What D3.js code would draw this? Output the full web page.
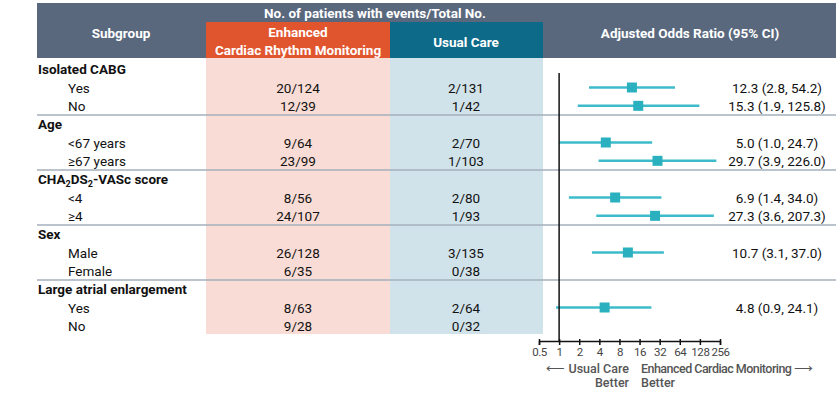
<!DOCTYPE html>
<html lang="en">
<head>
    <meta charset="UTF-8">
    <title>Forest plot</title>
    <script src="https://d3js.org/d3.v7.min.js"></script>
    <style>
        body { margin: 0; background: #fff; }
        text { font-family: Roboto, "Noto Sans", sans-serif; }
    </style>
</head>
<body>
<script>

    // rows of the table, top to bottom
    var labels = ["Isolated CABG", "Yes", "No",
                  "Age", "<67 years", "\u226567 years",
                  "CHA2DS2-VASc score", "<4", "\u22654",
                  "Sex", "Male", "Female",
                  "Large atrial enlargement", "Yes", "No"];
    var isGroup = [1, 0, 0, 1, 0, 0, 1, 0, 0, 1, 0, 0, 1, 0, 0];
    var enhanced = ["", "20/124", "12/39", "", "9/64", "23/99", "", "8/56", "24/107", "", "26/128", "6/35", "", "8/63", "9/28"];
    var usual = ["", "2/131", "1/42", "", "2/70", "1/103", "", "2/80", "1/93", "", "3/135", "0/38", "", "2/64", "0/32"];
    var oddsRatio = [null, 12.3, 15.3, null, 5.0, 29.7, null, 6.9, 27.3, null, 10.7, null, null, 4.8, null];
    var ciLow = [null, 2.8, 1.9, null, 1.0, 3.9, null, 1.4, 3.6, null, 3.1, null, null, 0.9, null];
    var ciHigh = [null, 54.2, 125.8, null, 24.7, 226.0, null, 34.0, 207.3, null, 37.0, null, null, 24.1, null];
    var orText = ["", "12.3 (2.8, 54.2)", "15.3 (1.9, 125.8)", "", "5.0 (1.0, 24.7)", "29.7 (3.9, 226.0)", "",
                  "6.9 (1.4, 34.0)", "27.3 (3.6, 207.3)", "", "10.7 (3.1, 37.0)", "", "", "4.8 (0.9, 24.1)", ""];
    var tickValues = [0.5, 1, 2, 4, 8, 16, 32, 64, 128, 256];

    var width = 836, height = 395;

    var svg = d3.select("body").append("svg")
        .attr("width", width)
        .attr("height", height);

    var y = d3.scaleBand()
        .domain(d3.range(labels.length))
        .range([60, 335])
        .paddingInner(0);

    var x = d3.scaleLog().base(2)
        .domain([0.5, 256])
        .range([539, 720]);

    var cyan = "#3dbbcb";

    // light column backgrounds
    svg.append("rect").attr("x", 206).attr("y", 58).attr("width", 184).attr("height", 276).attr("fill", "#f9dcd5");
    svg.append("rect").attr("x", 390).attr("y", 58).attr("width", 153).attr("height", 276).attr("fill", "#d1e3ea");

    // header
    svg.append("rect").attr("x", 37).attr("y", 3).attr("width", 799).attr("height", 55).attr("fill", "#5a687e");
    svg.append("rect").attr("x", 206).attr("y", 22).attr("width", 184).attr("height", 36).attr("fill", "#e1552e");
    svg.append("rect").attr("x", 390).attr("y", 22).attr("width", 153).attr("height", 36).attr("fill", "#0d6b89");

    var hdr = svg.append("g")
        .attr("fill", "#fff")
        .attr("font-size", 13.5)
        .attr("font-weight", "bold")
        .attr("text-anchor", "middle");
    hdr.append("text").attr("x", 121).attr("y", 38).text("Subgroup");
    hdr.append("text").attr("x", 375).attr("y", 18).text("No. of patients with events/Total No.");
    hdr.append("text").attr("x", 298).attr("y", 37).text("Enhanced");
    hdr.append("text").attr("x", 298).attr("y", 55).text("Cardiac Rhythm Monitoring");
    hdr.append("text").attr("x", 466).attr("y", 47).text("Usual Care");
    hdr.append("text").attr("x", 690).attr("y", 38).text("Adjusted Odds Ratio (95% CI)");

    // separators between groups
    var seps = [2, 5, 8, 11];
    svg.selectAll(".sep")
        .data(seps)
        .enter().append("line")
        .attr("class", "sep")
        .attr("x1", 37).attr("x2", 836)
        .attr("y1", function(d) { return y(d) + y.bandwidth(); })
        .attr("y2", function(d) { return y(d) + y.bandwidth(); })
        .attr("stroke", "#a5afbb")
        .attr("stroke-width", 1.6);

    var rows = svg.selectAll(".row")
        .data(d3.range(labels.length))
        .enter().append("g")
        .attr("class", "row")
        .attr("transform", function(i) { return "translate(0," + (y(i) + y.bandwidth() / 2) + ")"; });

    // subgroup labels
    rows.append("text")
        .attr("x", function(i) { return isGroup[i] ? 38 : 68; })
        .attr("y", 5)
        .attr("font-size", 13.5)
        .attr("font-weight", function(i) { return isGroup[i] ? "bold" : "normal"; })
        .attr("fill", "#111")
        .each(function(i) {
            var t = d3.select(this);
            if (labels[i] === "CHA2DS2-VASc score") {
                t.append("tspan").text("CHA");
                t.append("tspan").attr("font-size", 9).attr("dy", 3).text("2");
                t.append("tspan").attr("dy", -3).text("DS");
                t.append("tspan").attr("font-size", 9).attr("dy", 3).text("2");
                t.append("tspan").attr("dy", -3).text("-VASc score");
            } else {
                t.text(labels[i]);
            }
        });

    rows.append("text")
        .attr("x", 298).attr("y", 5)
        .attr("text-anchor", "middle")
        .attr("font-size", 13.5).attr("fill", "#111")
        .text(function(i) { return enhanced[i]; });

    rows.append("text")
        .attr("x", 466).attr("y", 5)
        .attr("text-anchor", "middle")
        .attr("font-size", 13.5).attr("fill", "#111")
        .text(function(i) { return usual[i]; });

    rows.append("text")
        .attr("x", 777).attr("y", 5)
        .attr("text-anchor", "middle")
        .attr("font-size", 13.5).attr("fill", "#111")
        .text(function(i) { return orText[i]; });

    // reference line at OR = 1
    svg.append("line")
        .attr("x1", x(1)).attr("x2", x(1))
        .attr("y1", 73).attr("y2", 342)
        .attr("stroke", "#111").attr("stroke-width", 1.5);

    // CIs and point estimates
    var est = rows.filter(function(i) { return oddsRatio[i] != null; });
    est.append("line")
        .attr("x1", function(i) { return x(ciLow[i]); })
        .attr("x2", function(i) { return x(ciHigh[i]); })
        .attr("stroke", cyan).attr("stroke-width", 2.5);
    est.append("rect")
        .attr("x", function(i) { return x(oddsRatio[i]) - 5; })
        .attr("y", -5)
        .attr("width", 10).attr("height", 10)
        .attr("fill", "#2bb0bf");

    // axis
    var axis = d3.axisBottom(x)
        .tickValues(tickValues)
        .tickSize(4)
        .tickFormat(function(d) { return d; });
    var ax = svg.append("g")
        .attr("transform", "translate(0,341)")
        .call(axis);
    ax.select(".domain").attr("stroke", "#111").attr("stroke-width", 1.5);
    ax.selectAll(".tick line").attr("stroke", "#111").attr("stroke-width", 1.5).attr("y1", -2);
    ax.selectAll(".tick text")
        .attr("font-family", "Roboto, sans-serif")
        .attr("font-size", 11.5)
        .attr("letter-spacing", -0.4)
        .attr("fill", "#444")
        .attr("y", 7);

    var note = svg.append("g").attr("font-size", 12.5).attr("font-weight", 500).attr("fill", "#555");
    note.append("text").attr("x", 629).attr("y", 373).attr("text-anchor", "end").text("\u27F5 Usual Care");
    note.append("text").attr("x", 629).attr("y", 387).attr("text-anchor", "end").text("Better");
    note.append("text").attr("x", 641).attr("y", 373).attr("textLength", 172).text("Enhanced Cardiac Monitoring \u27F6");
    note.append("text").attr("x", 641).attr("y", 387).text("Better");

</script>
</body>
</html>
